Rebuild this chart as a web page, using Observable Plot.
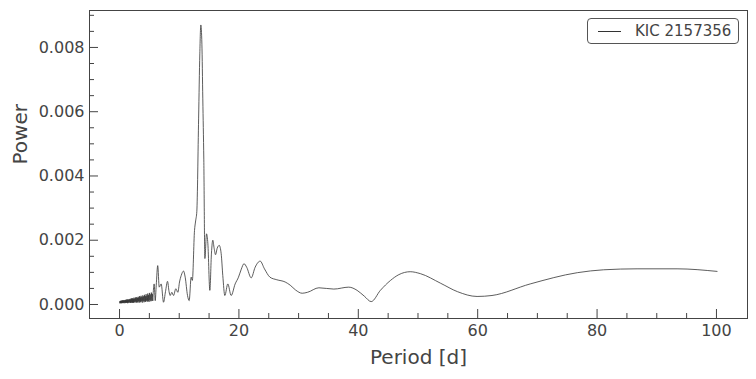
<!DOCTYPE html>
<html>
<head>
<meta charset="utf-8">
<script src="https://cdn.jsdelivr.net/npm/d3@7"></script>
<script src="https://cdn.jsdelivr.net/npm/@observablehq/plot@0.6"></script>
<style>
  html, body { margin: 0; padding: 0; background: #fff; }
  #wrap { position: relative; width: 756px; height: 379px; font-family: "DejaVu Sans", sans-serif; }
  #legend { position: absolute; left: 587px; top: 18px; width: 150px; height: 24px; border: 1px solid #555; border-radius: 4px; background: #fff; box-sizing: content-box; }
  #legend .swatch { position: absolute; left: 10px; top: 12px; width: 23px; height: 0; border-top: 1px solid #333; }
  #legend .lab { position: absolute; left: 47px; top: 2px; font-size: 15px; color: #444; white-space: nowrap; line-height: 20px; }
</style>
</head>
<body>
<div id="wrap">
  <div id="chart"></div>
  <div id="legend"><div class="swatch"></div><div class="lab"></div></div>
</div>
<script>
const seriesName = "KIC 2157356";
const xLabel = "Period [d]";
const yLabel = "Power";

const period = [
  0.04,0.07,0.10,0.13,0.16,0.19,0.22,0.25,0.28,0.31,
  0.34,0.37,0.40,0.43,0.46,0.49,0.52,0.55,0.58,0.61,
  0.65,0.69,0.73,0.77,0.81,0.85,0.89,0.93,0.97,1.01,
  1.05,1.09,1.13,1.17,1.21,1.25,1.29,1.33,1.37,1.41,
  1.46,1.51,1.56,1.61,1.66,1.71,1.76,1.81,1.86,1.91,
  1.96,2.01,2.06,2.11,2.16,2.21,2.26,2.31,2.36,2.41,
  2.47,2.53,2.59,2.65,2.71,2.77,2.83,2.89,2.95,3.01,
  3.07,3.13,3.19,3.25,3.31,3.37,3.43,3.49,3.55,3.61,
  3.68,3.75,3.82,3.89,3.96,4.03,4.10,4.17,4.24,4.31,
  4.38,4.45,4.52,4.59,4.66,4.73,4.80,4.87,4.94,5.01,
  5.09,5.17,5.25,5.33,5.41,5.49,5.57,5.65,
  5.8,5.98,6.15,6.4,6.65,6.98,7.37,7.7,8.04,8.3,
  8.49,8.76,9.05,9.43,9.77,10.05,10.33,10.72,11.0,11.39,
  11.67,12.0,12.2,12.56,12.75,12.95,13.25,13.45,13.62,13.8,
  13.95,14.12,14.3,14.57,14.8,15.13,15.4,15.63,15.85,16.08,
  16.36,16.7,17.03,17.3,17.64,18.14,18.7,19.37,19.93,20.4,
  20.85,21.3,22.06,22.72,23.56,24.28,25.2,26.35,27.75,28.6,
  29.5,30.6,31.5,33.4,35.9,38.4,39.8,41.0,42.16,43.7,
  45.4,46.8,48.7,50.4,53.8,56.6,59.9,62.4,68.8,76.7,
  81.1,86.7,93.4,100.1
];
const power = [
  0.00005,0.00010,0.00004,0.00011,0.00006,0.00009,0.00004,0.00012,0.00006,0.00010,
  0.00004,0.00012,0.00007,0.00011,0.00005,0.00013,0.00006,0.00010,0.00004,0.00013,
  0.00006,0.00012,0.00005,0.00014,0.00007,0.00011,0.00004,0.00014,0.00006,0.00013,
  0.00005,0.00015,0.00007,0.00012,0.00005,0.00016,0.00006,0.00013,0.00004,0.00016,
  0.00007,0.00014,0.00005,0.00017,0.00008,0.00015,0.00005,0.00018,0.00006,0.00015,
  0.00005,0.00019,0.00008,0.00016,0.00005,0.00020,0.00007,0.00017,0.00005,0.00021,
  0.00008,0.00018,0.00006,0.00022,0.00009,0.00019,0.00006,0.00023,0.00008,0.00020,
  0.00006,0.00024,0.00010,0.00021,0.00006,0.00026,0.00009,0.00022,0.00007,0.00027,
  0.00010,0.00023,0.00006,0.00028,0.00011,0.00025,0.00007,0.00030,0.00010,0.00026,
  0.00008,0.00032,0.00012,0.00027,0.00009,0.00034,0.00011,0.00029,0.00008,0.00036,
  0.00013,0.00031,0.00010,0.00037,0.00012,0.00033,0.00011,0.00038,
  0.00064,0.00012,0.00060,0.00121,0.00054,0.00064,0.00007,0.00040,0.00072,0.00040,
  0.00028,0.00038,0.00028,0.00049,0.00038,0.00070,0.00090,0.00104,0.00085,0.00028,
  0.00012,0.00085,0.00075,0.00230,0.00260,0.00290,0.00580,0.00780,0.00870,0.00810,
  0.00640,0.00450,0.00143,0.00220,0.00189,0.00044,0.00160,0.00200,0.00175,0.00155,
  0.00175,0.00184,0.00158,0.00090,0.00028,0.00064,0.00028,0.00064,0.00085,0.00110,
  0.00127,0.00116,0.00083,0.00116,0.00135,0.00111,0.00085,0.00077,0.00070,0.00060,
  0.00045,0.00035,0.00038,0.00052,0.00048,0.00054,0.00044,0.00026,0.00009,0.00044,
  0.00075,0.00093,0.00102,0.00096,0.00066,0.00040,0.00025,0.00028,0.00064,0.00099,
  0.00108,0.00111,0.00111,0.00103
];

const xMajorTicks = [0, 20, 40, 60, 80, 100];
const xMinorTicks = [5, 10, 15, 25, 30, 35, 45, 50, 55, 65, 70, 75, 85, 90, 95];
const yMajorTicks = [0, 0.002, 0.004, 0.006, 0.008];
const yMinorTicks = [0.0005, 0.001, 0.0015, 0.0025, 0.003, 0.0035, 0.0045, 0.005, 0.0055, 0.0065, 0.007, 0.0075, 0.0085, 0.009];

const data = period.map((p, i) => ({period: p, power: power[i]}));

const W = 756, H = 379;
const mL = 89, mR = 9, mT = 10, mB = 61;
const innerW = W - mL - mR, innerH = H - mT - mB;
const ink = "#444";

const chart = Plot.plot({
  width: W, height: H,
  marginLeft: mL, marginRight: mR, marginTop: mT, marginBottom: mB,
  style: {fontFamily: "DejaVu Sans, sans-serif", color: ink, background: "#fff", overflow: "visible"},
  x: {domain: [-5.03, 105.2]},
  y: {domain: [-0.000436, 0.00915]},
  marks: [
    Plot.line(data, {x: "period", y: "power", stroke: "#333", strokeWidth: 0.8, curve: "monotone-x"}),
    Plot.frame({stroke: ink, strokeWidth: 1}),
    Plot.tickX(xMajorTicks, {x: d => d, stroke: ink, insetTop: innerH - 9}),
    Plot.tickX(xMinorTicks, {x: d => d, stroke: ink, insetTop: innerH - 5}),
    Plot.tickY(yMajorTicks, {y: d => d, stroke: ink, insetRight: innerW - 9}),
    Plot.tickY(yMinorTicks, {y: d => d, stroke: ink, insetRight: innerW - 5}),
    Plot.axisX(xMajorTicks, {tickSize: 0, tickPadding: 6, fontSize: 16, label: null, fill: ink}),
    Plot.axisY(yMajorTicks, {tickSize: 0, tickPadding: 5, fontSize: 16, label: null, fill: ink, tickFormat: d3.format(".3f")}),
    Plot.text([xLabel], {frameAnchor: "bottom", dy: 39, fontSize: 20, fill: ink, lineAnchor: "middle"}),
    Plot.text([yLabel], {frameAnchor: "left", dx: -69, rotate: -90, fontSize: 20, fill: ink, lineAnchor: "middle"})
  ]
});
document.getElementById("chart").appendChild(chart);
document.querySelector("#legend .lab").textContent = seriesName;
</script>
</body>
</html>
